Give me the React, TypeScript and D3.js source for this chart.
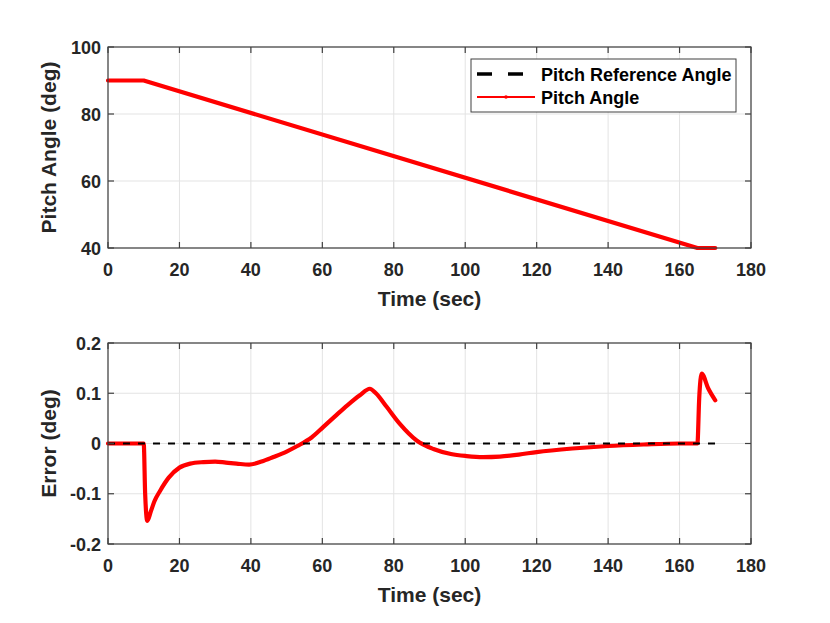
import * as d3 from 'd3';

// top panel: pitch angle vs time
const pitchTime = [0, 10, 165, 170];
const pitchAngle = [90, 90, 40, 40];
const pitchRef = [90, 90, 40, 40];

// bottom panel: tracking error vs time
const errTime = [0, 10, 10.4, 11, 12, 13, 14.6, 17, 20, 23, 26.7, 30, 33, 36, 39.5, 43, 46.3, 50, 53, 57, 60.3, 64, 67, 70.5, 73.3, 75, 78, 81.7, 86.4, 91.1, 96, 100.4, 105, 109.7, 115, 120, 130, 140, 150, 160, 165, 165.5, 166.2, 168, 170];
const errValue = [0, 0, -0.1, -0.154, -0.135, -0.115, -0.094, -0.068, -0.048, -0.04, -0.037, -0.036, -0.038, -0.04, -0.042, -0.036, -0.027, -0.016, -0.005, 0.012, 0.033, 0.057, 0.076, 0.096, 0.109, 0.1, 0.073, 0.039, 0.006, -0.011, -0.021, -0.025, -0.027, -0.026, -0.022, -0.017, -0.01, -0.005, -0.002, 0, 0, 0.09, 0.139, 0.11, 0.086];
const errRefTime = [0, 170];
const errRef = [0, 0];

const xTicks = [0, 20, 40, 60, 80, 100, 120, 140, 160, 180];
const pitchTicks = [40, 60, 80, 100];
const errTicks = [-0.2, -0.1, 0, 0.1, 0.2];
const errTickLabels = ['-0.2', '-0.1', '0', '0.1', '0.2'];

const legendLabels = ['Pitch Reference Angle', 'Pitch Angle'];

const FONT = 'Liberation Sans, Arial, sans-serif';
const AXIS = '#404040';
const GRID = '#e3e3e3';

interface Series {
  t: number[];
  v: number[];
  color: string;
  width: number;
  dash?: string;
  smooth?: boolean;
}

interface PanelProps {
  top: number;
  yDomain: [number, number];
  yTicks: number[];
  yTickLabels: string[];
  yLabel: string;
  series: Series[];
  legend?: boolean;
}

const left = 108;
const right = 751;
const ph = 201;

function Panel({ top, yDomain, yTicks, yTickLabels, yLabel, series, legend }: PanelProps) {
  const x = d3.scaleLinear().domain([0, 180]).range([left, right]);
  const y = d3.scaleLinear().domain(yDomain).range([top + ph, top]);
  const path = (s: Series) =>
    d3.line<[number, number]>()
      .x(d => x(d[0]))
      .y(d => y(d[1]))
      .curve(s.smooth ? d3.curveMonotoneX : d3.curveLinear)(s.t.map((t, j) => [t, s.v[j]] as [number, number])) || '';
  return (
    <g>
      {xTicks.map(t => (
        <line key={'gx' + t} x1={x(t)} x2={x(t)} y1={top} y2={top + ph} stroke={GRID} strokeWidth={1} />
      ))}
      {yTicks.map(t => (
        <line key={'gy' + t} x1={left} x2={right} y1={y(t)} y2={y(t)} stroke={GRID} strokeWidth={1} />
      ))}
      {series.map((s, i) => (
        <path
          key={i}
          d={path(s)}
          fill="none"
          stroke={s.color}
          strokeWidth={s.width}
          strokeDasharray={s.dash}
          strokeLinejoin="round"
          strokeLinecap={s.dash ? 'butt' : 'round'}
        />
      ))}
      <rect x={left} y={top} width={right - left} height={ph} fill="none" stroke={AXIS} strokeWidth={1.2} />
      {xTicks.map(t => (
        <g key={'tx' + t}>
          <line x1={x(t)} x2={x(t)} y1={top + ph} y2={top + ph - 6} stroke={AXIS} strokeWidth={1.2} />
          <line x1={x(t)} x2={x(t)} y1={top} y2={top + 6} stroke={AXIS} strokeWidth={1.2} />
          <text x={x(t)} y={top + ph + 28} textAnchor="middle" fontSize={18} fontWeight="bold" fill="#262626">{t}</text>
        </g>
      ))}
      {yTicks.map((t, i) => (
        <g key={'ty' + t}>
          <line x1={left} x2={left + 6} y1={y(t)} y2={y(t)} stroke={AXIS} strokeWidth={1.2} />
          <line x1={right} x2={right - 6} y1={y(t)} y2={y(t)} stroke={AXIS} strokeWidth={1.2} />
          <text x={left - 7} y={y(t) + 6.5} textAnchor="end" fontSize={18} fontWeight="bold" fill="#262626">{yTickLabels[i]}</text>
        </g>
      ))}
      <text x={(left + right) / 2} y={top + ph + 58} textAnchor="middle" fontSize={21} fontWeight="bold" fill="#262626">Time (sec)</text>
      <text transform={`translate(56,${top + ph / 2}) rotate(-90)`} textAnchor="middle" fontSize={21} fontWeight="bold" fill="#262626">{yLabel}</text>
      {legend && (
        <g>
          <rect x={471} y={59} width={265} height={53} fill="#fff" stroke={AXIS} strokeWidth={1} />
          <line x1={477} x2={535} y1={74} y2={74} stroke="#000" strokeWidth={3.5} strokeDasharray="15,16" />
          <text x={541} y={80.5} fontSize={18} fontWeight="bold" fill="#000">{legendLabels[0]}</text>
          <line x1={477} x2={535} y1={97} y2={97} stroke="#ff0000" strokeWidth={1.8} />
          <circle cx={506} cy={97} r={1.8} fill="#ff0000" />
          <text x={541} y={103.5} fontSize={18} fontWeight="bold" fill="#000">{legendLabels[1]}</text>
        </g>
      )}
    </g>
  );
}

export default function App() {
  return (
    <svg width={830} height={623} style={{ position: 'absolute', left: 0, top: 0, fontFamily: FONT, background: '#fff' }}>
      <rect width={830} height={623} fill="#fff" />
      <Panel
        top={47}
        yDomain={[40, 100]}
        yTicks={pitchTicks}
        yTickLabels={pitchTicks.map(String)}
        yLabel="Pitch Angle (deg)"
        series={[
          { t: pitchTime, v: pitchRef, color: '#000', width: 2, dash: '7,8' },
          { t: pitchTime, v: pitchAngle, color: '#ff0000', width: 4.2 },
        ]}
        legend
      />
      <Panel
        top={343}
        yDomain={[-0.2, 0.2]}
        yTicks={errTicks}
        yTickLabels={errTickLabels}
        yLabel="Error (deg)"
        series={[
          { t: errTime, v: errValue, color: '#ff0000', width: 4.2, smooth: true },
          { t: errRefTime, v: errRef, color: '#000', width: 1.8, dash: '7,8' },
        ]}
      />
    </svg>
  );
}
